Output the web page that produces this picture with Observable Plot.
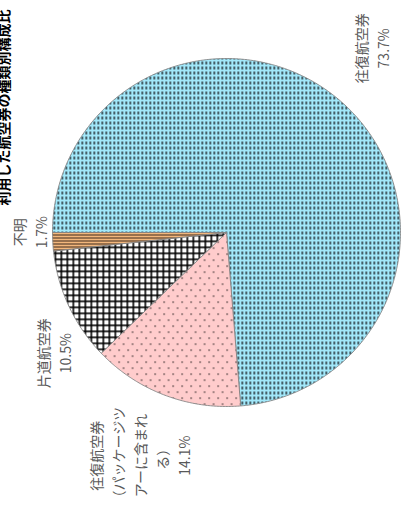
<!DOCTYPE html>
<html><head><meta charset="utf-8">
<script src="https://cdn.jsdelivr.net/npm/d3@7"></script>
<script src="https://cdn.jsdelivr.net/npm/@observablehq/plot@0.6"></script>
<style>body{margin:0;background:#fff;overflow:hidden;}</style>
</head><body><div id="chart"></div>
<script>
// ---- data ----
const categories = ["往復航空券", "往復航空券（パッケージツアーに含まれる）", "片道航空券", "不明"];
const labelTexts = ["往復航空券", "往復航空券\n（パッケージツ\nアーに含まれ\nる）", "片道航空券", "不明"];
const shares = [73.7, 14.1, 10.5, 1.7];
const shareLabels = ["73.7%", "14.1%", "10.5%", "1.7%"];
const patternIds = ["pRound", "pPackage", "pOneWay", "pUnknown"];
const title = "利用した航空券の種類別構成比";

// ---- layout / style (not data) ----
const startDeg = 270;               // first slice starts at 9 o'clock, clockwise
const labelNudge = [[9, -37], [-17, 36], [8, 36], [2, -11]];
const labelRadius = 1.15;

// slice geometry from values
const total = d3.sum(shares);
let cum = 0;
const slices = shares.map((v, i) => {
  const a0 = startDeg + cum / total * 360; cum += v;
  const a1 = startDeg + cum / total * 360;
  return {i, a0, a1, mid: (a0 + a1) / 2};
});
const pt = (deg, r) => { const t = deg * Math.PI / 180; return {x: r * Math.sin(t), y: r * Math.cos(t)}; };
const polys = slices.map(s => {
  const pts = [{x: 0, y: 0}];
  const n = Math.max(2, Math.ceil((s.a1 - s.a0) / 0.5));
  for (let k = 0; k <= n; k++) pts.push(pt(s.a0 + (s.a1 - s.a0) * k / n, 1));
  pts.push({x: 0, y: 0});
  return pts;
});
const labelData = slices.map(s => ({...pt(s.mid, labelRadius), text: labelTexts[s.i] + "\n" + shareLabels[s.i], i: s.i}));

const chart = Plot.plot({
  width: 414, height: 506, margin: 0,
  x: {domain: [-1, 1], range: [52, 400], axis: null},
  y: {domain: [-1, 1], range: [406, 58], axis: null},
  style: {fontFamily: '"Noto Sans CJK JP", "Noto Sans", sans-serif', background: "#fff"},
  marks: [
    ...polys.map((p, i) => Plot.line(p, {x: "x", y: "y", fill: `url(#${patternIds[i]})`, stroke: "#858585", strokeWidth: 0.9, strokeLinejoin: "round"})),
    ...labelData.map(d => Plot.text([d], {x: "x", y: "y", text: "text", rotate: -90, textAnchor: "middle", lineAnchor: "middle", lineHeight: 1.57, fontSize: 14, fill: "#595959", dx: labelNudge[d.i][0], dy: labelNudge[d.i][1]})),
    Plot.text([title], {text: d => d, frameAnchor: "top-left", dx: 4, dy: 205, rotate: -90, textAnchor: "start", lineAnchor: "middle", fontWeight: "bold", fontSize: 14, fill: "#000"})
  ]
});

// pattern definitions
const svg = chart.tagName.toLowerCase() === "svg" ? chart : chart.querySelector("svg");
const ns = "http://www.w3.org/2000/svg";
const defs = document.createElementNS(ns, "defs");
defs.innerHTML = `
<pattern id="pRound" patternUnits="userSpaceOnUse" width="4" height="5">
  <rect width="4" height="5" fill="#a2e8fa"/>
  <rect x="1" y="1" width="1.5" height="3" fill="#243036"/>
</pattern>
<pattern id="pPackage" patternUnits="userSpaceOnUse" width="9" height="12">
  <rect width="9" height="12" fill="#ffcccc"/>
  <rect x="1" y="1" width="1.2" height="1.2" fill="#000"/>
  <rect x="5.5" y="7" width="1.2" height="1.2" fill="#000"/>
</pattern>
<pattern id="pOneWay" patternUnits="userSpaceOnUse" width="6" height="6">
  <rect width="6" height="6" fill="#fff"/>
  <rect x="0" y="0" width="6" height="1.6" fill="#000"/>
  <rect x="0" y="0" width="1.6" height="6" fill="#000"/>
</pattern>
<pattern id="pUnknown" patternUnits="userSpaceOnUse" width="6" height="3">
  <rect width="6" height="3" fill="#f3b77c"/>
  <rect x="0" y="0" width="6" height="1" fill="#3c2a1c"/>
</pattern>`;
svg.insertBefore(defs, svg.firstChild);
document.getElementById("chart").appendChild(chart);
</script>
</body></html>
